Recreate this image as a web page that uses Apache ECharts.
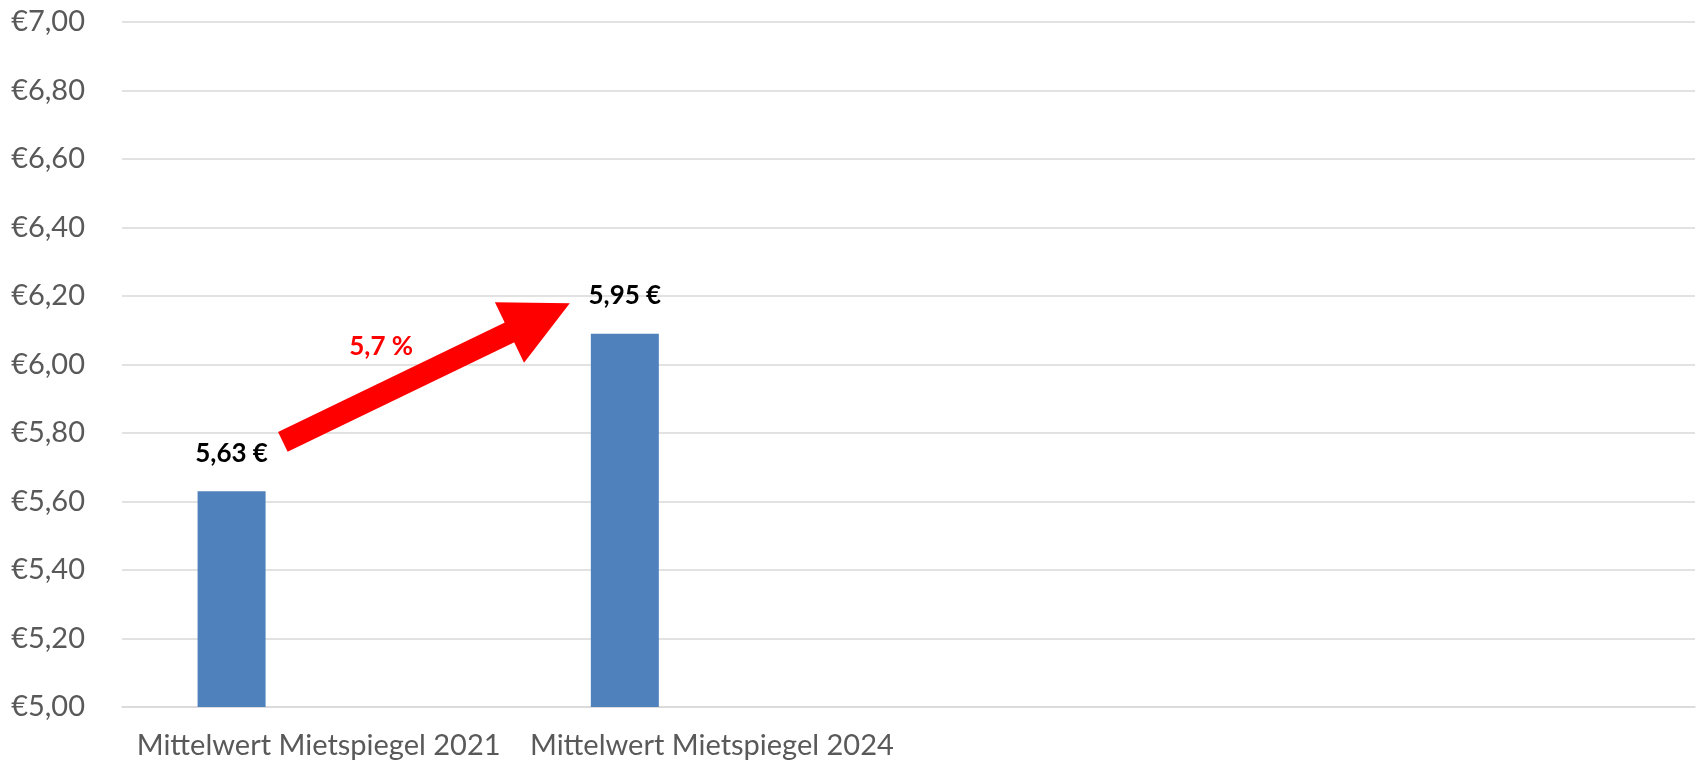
<!DOCTYPE html>
<html>
<head>
    <meta charset="utf-8">
    <script src="https://cdn.jsdelivr.net/npm/echarts@6/dist/echarts.min.js"></script>
    <style>
        html, body {
            margin: 0;
            padding: 0;
            background: #fff;
        }
    </style>
</head>
<body>
<div id="main" style="width:1698px;height:767px"></div>
<script>
    // Daten
    var categories = ['Mittelwert Mietspiegel 2021', 'Mittelwert Mietspiegel 2024', '', ''];
    var barValues = [5.63, 6.09, '-', '-'];
    var barLabels = ['5,63 €', '5,95 €'];
    var emptySeries = ['-', '-', '-', '-'];
    var yMin = 5, yMax = 7, yStep = 0.2;
    var changeText = '5,7 %';

    // Pfeil (x in Kategorie-Einheiten 0..4, y in €)
    var arrowFrom = [0.409, 5.774];
    var arrowTo = [1.062, 6.136];
    var changePos = [0.659, 6.051];

    var myChart = echarts.init(document.getElementById('main'));
    var option = {
        animation: false,
        grid: {
            left: 122,
            right: 3,
            top: 22,
            bottom: 60
        },
        xAxis: [
            {
                type: 'category',
                data: categories,
                axisLine: {show: true, lineStyle: {color: '#D9D9D9', width: 1.5}},
                axisTick: {show: false},
                axisLabel: {
                    color: '#595959',
                    fontFamily: 'Lato',
                    fontSize: 29,
                    margin: 24,
                    interval: 0
                }
            },
            {
                type: 'value',
                min: 0,
                max: 4,
                show: false
            }
        ],
        yAxis: {
            type: 'value',
            min: yMin,
            max: yMax,
            interval: yStep,
            axisLine: {show: false},
            axisTick: {show: false},
            splitLine: {lineStyle: {color: '#D9D9D9', width: 1.5}},
            axisLabel: {
                color: '#595959',
                fontFamily: 'Lato',
                fontSize: 29,
                margin: 37,
                formatter: function (v) {
                    return '€' + v.toFixed(2).replace('.', ',');
                }
            }
        },
        series: [
            {
                type: 'bar',
                data: barValues,
                barWidth: 68,
                barGap: '156%',
                itemStyle: {color: '#4F81BD'},
                label: {
                    show: true,
                    position: 'top',
                    distance: 25,
                    color: '#000',
                    fontFamily: 'Lato',
                    fontWeight: 'bold',
                    fontSize: 26,
                    formatter: function (p) {
                        return barLabels[p.dataIndex];
                    }
                }
            },
            {
                type: 'bar',
                data: emptySeries,
                barWidth: 68
            },
            {
                type: 'line',
                xAxisIndex: 1,
                data: [],
                silent: true,
                markLine: {
                    silent: true,
                    animation: false,
                    label: {show: false},
                    lineStyle: {color: '#FF0000', width: 22, type: 'solid'},
                    symbol: ['none', 'triangle'],
                    data: [
                        [
                            {coord: arrowFrom, symbol: 'none'},
                            {coord: arrowTo, symbol: 'triangle', symbolSize: [67, 67]}
                        ]
                    ],
                    itemStyle: {color: '#FF0000'}
                },
                markPoint: {
                    silent: true,
                    animation: false,
                    symbol: 'circle',
                    symbolSize: 1,
                    itemStyle: {color: 'rgba(0,0,0,0)'},
                    label: {
                        show: true,
                        position: 'inside',
                        color: '#FF0000',
                        fontFamily: 'Lato',
                        fontWeight: 'bold',
                        fontSize: 26,
                        formatter: changeText
                    },
                    data: [{coord: changePos}]
                }
            }
        ]
    };
    myChart.setOption(option);
</script>
</body>
</html>
